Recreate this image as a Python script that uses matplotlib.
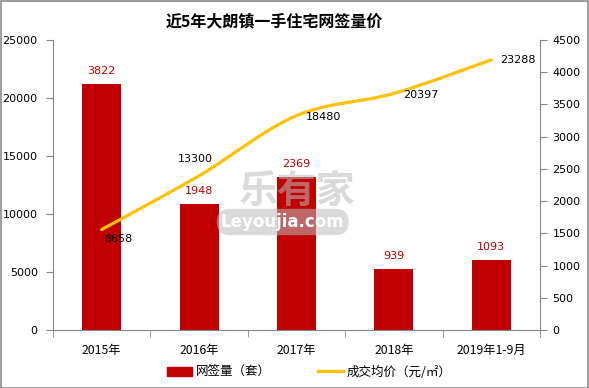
import numpy as np
import matplotlib
matplotlib.use('Agg')

import matplotlib.pyplot as plt
from matplotlib.path import Path
from matplotlib.patches import PathPatch, Rectangle
from matplotlib.lines import Line2D

plt.rcParams['font.family'] = ['DejaVu Sans', 'Noto Sans CJK SC']

categories = ['2015年', '2016年', '2017年', '2018年', '2019年1-9月']
volume = [3822, 1948, 2369, 939, 1093]          # 网签量（套）, right axis
price = [8658, 13300, 18480, 20397, 23288]      # 成交均价（元/㎡）, left axis

# label offsets in pixels for the price labels (as placed in the original)
price_label_offsets = [(17, -9), (-4, 17), (27, -1), (27, -2), (27, 0)]

RED = '#C00000'
GOLD = '#FFC000'
GRAY = '#868686'
CJK = ['Noto Sans CJK SC', 'DejaVu Sans']


def smooth_path(xs, ys):
    # Excel-style smoothed line: cubic Bezier through the data points
    pts = np.column_stack([xs, ys]).astype(float)
    padded = np.vstack([pts[0], pts, pts[-1]])
    verts = [pts[0]]
    codes = [Path.MOVETO]
    for i in range(len(pts) - 1):
        p0, p1, p2, p3 = padded[i], padded[i + 1], padded[i + 2], padded[i + 3]
        c1 = p1 + (p2 - p0) / 6.0
        c2 = p2 - (p3 - p1) / 6.0
        verts += [c1, c2, p2]
        codes += [Path.CURVE4] * 3
    return Path(verts, codes)


def main():
    fig = plt.figure(figsize=(5.89, 3.88), dpi=100)
    ax = fig.add_axes([53 / 589, 1 - 330 / 388, 487 / 589, 290 / 388])
    ax2 = ax.twinx()

    x = np.arange(len(categories))

    # bars on the secondary (right) axis
    ax2.bar(x, volume, width=0.4, color=RED, zorder=2)
    for xi, v in zip(x, volume):
        ax2.annotate(str(v), (xi, v), xytext=(0, 13), textcoords='offset pixels',
                     ha='center', va='center', fontsize=8, color=RED)
    ax2.set_ylim(0, 4500)
    ax2.set_yticks(np.arange(0, 4501, 500))

    # smoothed price line on the primary (left) axis, drawn above bars
    ax.set_zorder(ax2.get_zorder() + 1)
    ax.patch.set_visible(False)
    ax.add_patch(PathPatch(smooth_path(x, price), fill=False, edgecolor=GOLD,
                           lw=2.3, capstyle='round', zorder=3))
    for xi, v, off in zip(x, price, price_label_offsets):
        ax.annotate(str(v), (xi, v), xytext=off, textcoords='offset pixels',
                    ha='center', va='center', fontsize=8, color='black')
    ax.set_ylim(0, 25000)
    ax.set_yticks(np.arange(0, 25001, 5000))
    ax.set_xlim(-0.5, len(categories) - 0.5)

    # category labels centred, tick marks between categories
    ax.set_xticks(x)
    ax.set_xticklabels(categories, family=CJK, fontsize=8.8)
    ax.tick_params(axis='x', length=0, pad=10)
    ax.set_xticks(np.arange(-0.5, len(categories)), minor=True)
    ax.tick_params(axis='x', which='minor', length=5, color=GRAY, direction='out')

    for a in (ax, ax2):
        a.spines['top'].set_visible(False)
        for s in ('left', 'right', 'bottom'):
            a.spines[s].set_color(GRAY)
            a.spines[s].set_linewidth(0.8)
        a.tick_params(axis='y', length=5, color=GRAY, labelsize=8)
    ax.tick_params(axis='y', pad=6)
    ax2.tick_params(axis='y', pad=4)
    ax.spines['right'].set_visible(False)
    ax2.spines['left'].set_visible(False)
    ax2.spines['bottom'].set_visible(False)

    # title
    fig.text(0.465, 1 - 21 / 388, '近5年大朗镇一手住宅网签量价', ha='center', va='center',
             fontsize=11.5, fontweight='bold', family=CJK)

    # legend
    handles = [Rectangle((0, 0), 1, 1, color=RED),
               Line2D([0], [0], color=GOLD, lw=2.3)]
    fig.legend(handles, ['网签量（套）', '成交均价（元/㎡）'], loc='center',
               bbox_to_anchor=(0.525, 1 - 372 / 388), ncol=2, frameon=False,
               prop={'family': CJK, 'size': 9}, handlelength=2.0,
               handletextpad=0.3, columnspacing=3.8)

    # faint watermark in the middle of the plot
    fig.text(0.505, 1 - 191 / 388, '乐有家', ha='center', va='center', fontsize=28,
             fontweight='bold', color='#bdbdbd', alpha=0.55, family=CJK, zorder=5)
    fig.text(0.48, 1 - 222 / 388, 'Leyoujia.com', ha='center', va='center', fontsize=12,
             fontweight='bold', color='white', zorder=6,
             bbox=dict(boxstyle='round,pad=0.25,rounding_size=0.8', fc='#bdbdbd',
                       ec='none', alpha=0.55))

    # outer frame
    fig.patches.append(Rectangle((0.001, 0.001), 0.997, 0.997, transform=fig.transFigure,
                                 fill=False, ec='#8c8c8c', lw=1.2))

    fig.savefig('out.png', dpi=100)


if __name__ == "__main__":
    main()
